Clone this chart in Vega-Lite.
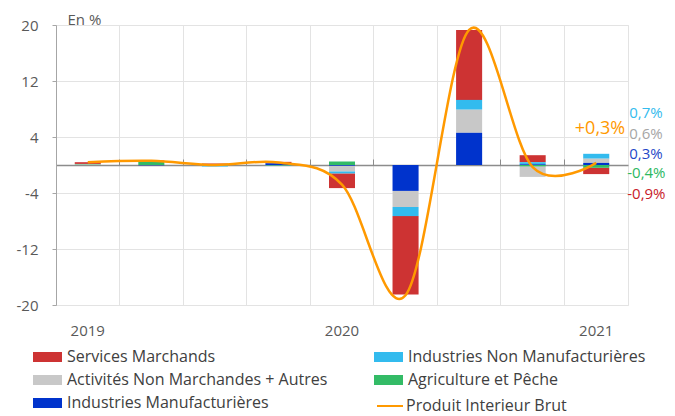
{
  "$schema": "https://vega.github.io/schema/vega-lite/v6.json",
  "width": 572,
  "height": 280,
  "autosize": {"type": "none"},
  "padding": {"left": 56, "top": 25, "right": 47, "bottom": 111},
  "background": "white",
  "config": {
    "font": "Open Sans",
    "view": {"stroke": "#e3e3e3", "strokeWidth": 1},
    "axis": {"labelFont": "Open Sans", "titleFont": "Open Sans", "labelColor": "#595959"},
    "legend": {"labelFont": "Open Sans", "labelFontSize": 16, "labelColor": "#404040", "labelLimit": 400},
    "text": {"font": "Open Sans"}
  },
  "datasets": {
    "contrib": [
      {"q": "2019T1", "s": "Services Marchands", "v": 0.25},
      {"q": "2019T1", "s": "Industries Non Manufacturières", "v": 0.0},
      {"q": "2019T1", "s": "Activités Non Marchandes + Autres", "v": 0.1},
      {"q": "2019T1", "s": "Agriculture et Pêche", "v": 0.05},
      {"q": "2019T1", "s": "Industries Manufacturières", "v": 0.0},
      {"q": "2019T2", "s": "Services Marchands", "v": 0.2},
      {"q": "2019T2", "s": "Industries Non Manufacturières", "v": 0.0},
      {"q": "2019T2", "s": "Activités Non Marchandes + Autres", "v": 0.0},
      {"q": "2019T2", "s": "Agriculture et Pêche", "v": 0.45},
      {"q": "2019T2", "s": "Industries Manufacturières", "v": -0.05},
      {"q": "2019T3", "s": "Services Marchands", "v": 0.2},
      {"q": "2019T3", "s": "Industries Non Manufacturières", "v": -0.15},
      {"q": "2019T3", "s": "Activités Non Marchandes + Autres", "v": 0.0},
      {"q": "2019T3", "s": "Agriculture et Pêche", "v": -0.05},
      {"q": "2019T3", "s": "Industries Manufacturières", "v": 0.0},
      {"q": "2019T4", "s": "Services Marchands", "v": 0.2},
      {"q": "2019T4", "s": "Industries Non Manufacturières", "v": -0.05},
      {"q": "2019T4", "s": "Activités Non Marchandes + Autres", "v": 0.0},
      {"q": "2019T4", "s": "Agriculture et Pêche", "v": -0.05},
      {"q": "2019T4", "s": "Industries Manufacturières", "v": 0.25},
      {"q": "2020T1", "s": "Services Marchands", "v": -2.1},
      {"q": "2020T1", "s": "Industries Non Manufacturières", "v": -0.3},
      {"q": "2020T1", "s": "Activités Non Marchandes + Autres", "v": -0.8},
      {"q": "2020T1", "s": "Agriculture et Pêche", "v": 0.5},
      {"q": "2020T1", "s": "Industries Manufacturières", "v": -0.1},
      {"q": "2020T2", "s": "Services Marchands", "v": -11.2},
      {"q": "2020T2", "s": "Industries Non Manufacturières", "v": -1.3},
      {"q": "2020T2", "s": "Activités Non Marchandes + Autres", "v": -2.3},
      {"q": "2020T2", "s": "Agriculture et Pêche", "v": 0.0},
      {"q": "2020T2", "s": "Industries Manufacturières", "v": -3.7},
      {"q": "2020T3", "s": "Services Marchands", "v": 10.0},
      {"q": "2020T3", "s": "Industries Non Manufacturières", "v": 1.4},
      {"q": "2020T3", "s": "Activités Non Marchandes + Autres", "v": 3.3},
      {"q": "2020T3", "s": "Agriculture et Pêche", "v": 0.0},
      {"q": "2020T3", "s": "Industries Manufacturières", "v": 4.6},
      {"q": "2020T4", "s": "Services Marchands", "v": 1.0},
      {"q": "2020T4", "s": "Industries Non Manufacturières", "v": 0.3},
      {"q": "2020T4", "s": "Activités Non Marchandes + Autres", "v": -1.5},
      {"q": "2020T4", "s": "Agriculture et Pêche", "v": -0.2},
      {"q": "2020T4", "s": "Industries Manufacturières", "v": 0.1},
      {"q": "2021T1", "s": "Services Marchands", "v": -0.9},
      {"q": "2021T1", "s": "Industries Non Manufacturières", "v": 0.7},
      {"q": "2021T1", "s": "Activités Non Marchandes + Autres", "v": 0.6},
      {"q": "2021T1", "s": "Agriculture et Pêche", "v": -0.4},
      {"q": "2021T1", "s": "Industries Manufacturières", "v": 0.3}
    ],
    "pib": [
      {"q": "2019T1", "v": 0.4},
      {"q": "2019T2", "v": 0.6},
      {"q": "2019T3", "v": 0.0},
      {"q": "2019T4", "v": 0.35},
      {"q": "2020T1", "v": -2.8},
      {"q": "2020T2", "v": -18.6},
      {"q": "2020T3", "v": 19.3},
      {"q": "2020T4", "v": -0.3},
      {"q": "2021T1", "v": 0.3}
    ]
  },
  "resolve": {"axis": {"x": "independent"}},
  "layer": [
    {
      "data": {"name": "contrib"},
      "transform": [
        {"calculate": "indexof(['Industries Manufacturières','Agriculture et Pêche','Activités Non Marchandes + Autres','Industries Non Manufacturières','Services Marchands'], datum.s)", "as": "ord"}
      ],
      "mark": {"type": "bar", "width": {"band": 0.41}},
      "encoding": {
        "x": {
          "field": "q", "type": "ordinal",
          "scale": {"paddingInner": 0, "paddingOuter": 0},
          "axis": {"orient": "bottom", "bandPosition": 0, "grid": true, "gridColor": "#e3e3e3", "labels": false, "ticks": false, "domain": false, "title": null}
        },
        "y": {
          "field": "v", "type": "quantitative", "stack": "zero",
          "scale": {"domain": [-20, 20], "nice": false, "zero": false},
          "axis": {
            "values": [-20, -12, -4, 4, 12, 20],
            "labelExpr": "'' + datum.value",
            "grid": true, "gridColor": "#e3e3e3",
            "domain": true, "domainColor": "#a6a6a6",
            "ticks": true, "tickColor": "#a6a6a6", "tickSize": 4,
            "labelPadding": 14, "labelFontSize": 15, "labelColor": "#595959",
            "title": "En %", "titleAngle": 0, "titleX": 11, "titleY": -1,
            "titleAlign": "left", "titleBaseline": "alphabetic",
            "titleFontSize": 15, "titleFontWeight": "normal", "titleColor": "#595959"
          }
        },
        "color": {
          "field": "s", "type": "nominal",
          "scale": {
            "domain": ["Services Marchands", "Industries Non Manufacturières", "Activités Non Marchandes + Autres", "Agriculture et Pêche", "Industries Manufacturières"],
            "range": ["#CD3333", "#33BBEE", "#C8C8C8", "#33BB66", "#0033CC"]
          },
          "legend": {
            "title": null, "orient": "none", "direction": "horizontal", "legendX": -23, "legendY": 322,
            "columns": 2, "columnPadding": 46, "rowPadding": 5,
            "symbolType": "M-1,-0.5H1.9V0.5H-1Z", "symbolSize": 400, "symbolStrokeWidth": 0,
            "symbolOpacity": 1, "labelOffset": 14, "labelFontSize": 16, "labelLimit": 400, "padding": 0
          }
        },
        "order": {"field": "ord", "type": "quantitative"}
      }
    },
    {
      "data": {"name": "pib"},
      "mark": {"type": "line", "interpolate": "cardinal", "strokeWidth": 2.5},
      "encoding": {
        "x": {
          "field": "q", "type": "ordinal",
          "axis": {"orient": "top", "offset": -140, "bandPosition": 0, "labels": false, "grid": false, "domain": true, "domainColor": "#8c8c8c", "domainWidth": 1.5, "ticks": true, "tickColor": "#8c8c8c", "tickSize": 6, "title": null}
        },
        "y": {"field": "v", "type": "quantitative"},
        "stroke": {
          "datum": "Produit Interieur Brut", "type": "nominal",
          "scale": {"range": ["#FF9900"]},
          "legend": {
            "title": null, "orient": "none", "legendX": 320, "legendY": 370,
            "symbolType": "M-1,0H1.6", "symbolSize": 400, "symbolStrokeWidth": 2,
            "labelOffset": 8, "labelFontSize": 16, "labelLimit": 400, "padding": 0
          }
        }
      }
    },
    {
      "data": {"name": "pib"},
      "transform": [
        {"filter": "datum.q === '2021T1'"},
        {"calculate": "'+' + replace(toString(datum.v), '.', ',') + '%'", "as": "lab"}
      ],
      "mark": {"type": "text", "align": "right", "baseline": "middle", "dx": 29, "dy": -34, "fontSize": 18, "color": "#FF9900"},
      "encoding": {
        "x": {
          "field": "q", "type": "ordinal",
          "axis": {
            "orient": "bottom",
            "labelExpr": "indexof(datum.value, 'T1') > 0 ? slice(datum.value, 0, 4) : ''",
            "labelAngle": 0, "labelPadding": 18, "labelFontSize": 15, "labelColor": "#595959",
            "labelOverlap": false, "domain": false, "ticks": false, "grid": false, "title": null
          }
        },
        "y": {"field": "v", "type": "quantitative"},
        "text": {"field": "lab"}
      }
    },
    {
      "data": {"name": "contrib"},
      "transform": [
        {"filter": "datum.q === '2021T1' && datum.s === 'Industries Non Manufacturières'"},
        {"calculate": "replace(toString(datum.v), '.', ',') + '%'", "as": "lab"}
      ],
      "mark": {"type": "text", "align": "left", "baseline": "middle", "dx": 33, "dy": -47, "fontSize": 15, "color": "#33BBEE"},
      "encoding": {
        "x": {"field": "q", "type": "ordinal", "axis": null},
        "y": {"field": "v", "type": "quantitative"},
        "text": {"field": "lab"}
      }
    },
    {
      "data": {"name": "contrib"},
      "transform": [
        {"filter": "datum.q === '2021T1' && datum.s === 'Activités Non Marchandes + Autres'"},
        {"calculate": "replace(toString(datum.v), '.', ',') + '%'", "as": "lab"}
      ],
      "mark": {"type": "text", "align": "left", "baseline": "middle", "dx": 33, "dy": -27, "fontSize": 15, "color": "#A6A6A6"},
      "encoding": {
        "x": {"field": "q", "type": "ordinal", "axis": null},
        "y": {"field": "v", "type": "quantitative"},
        "text": {"field": "lab"}
      }
    },
    {
      "data": {"name": "contrib"},
      "transform": [
        {"filter": "datum.q === '2021T1' && datum.s === 'Industries Manufacturières'"},
        {"calculate": "replace(toString(datum.v), '.', ',') + '%'", "as": "lab"}
      ],
      "mark": {"type": "text", "align": "left", "baseline": "middle", "dx": 33, "dy": -9, "fontSize": 15, "color": "#1F48C8"},
      "encoding": {
        "x": {"field": "q", "type": "ordinal", "axis": null},
        "y": {"field": "v", "type": "quantitative"},
        "text": {"field": "lab"}
      }
    },
    {
      "data": {"name": "contrib"},
      "transform": [
        {"filter": "datum.q === '2021T1' && datum.s === 'Agriculture et Pêche'"},
        {"calculate": "replace(toString(datum.v), '.', ',') + '%'", "as": "lab"}
      ],
      "mark": {"type": "text", "align": "left", "baseline": "middle", "dx": 31, "dy": 5, "fontSize": 15, "color": "#2DB862"},
      "encoding": {
        "x": {"field": "q", "type": "ordinal", "axis": null},
        "y": {"field": "v", "type": "quantitative"},
        "text": {"field": "lab"}
      }
    },
    {
      "data": {"name": "contrib"},
      "transform": [
        {"filter": "datum.q === '2021T1' && datum.s === 'Services Marchands'"},
        {"calculate": "replace(toString(datum.v), '.', ',') + '%'", "as": "lab"}
      ],
      "mark": {"type": "text", "align": "left", "baseline": "middle", "dx": 31, "dy": 23, "fontSize": 15, "color": "#C8202A"},
      "encoding": {
        "x": {"field": "q", "type": "ordinal", "axis": null},
        "y": {"field": "v", "type": "quantitative"},
        "text": {"field": "lab"}
      }
    }
  ]
}
